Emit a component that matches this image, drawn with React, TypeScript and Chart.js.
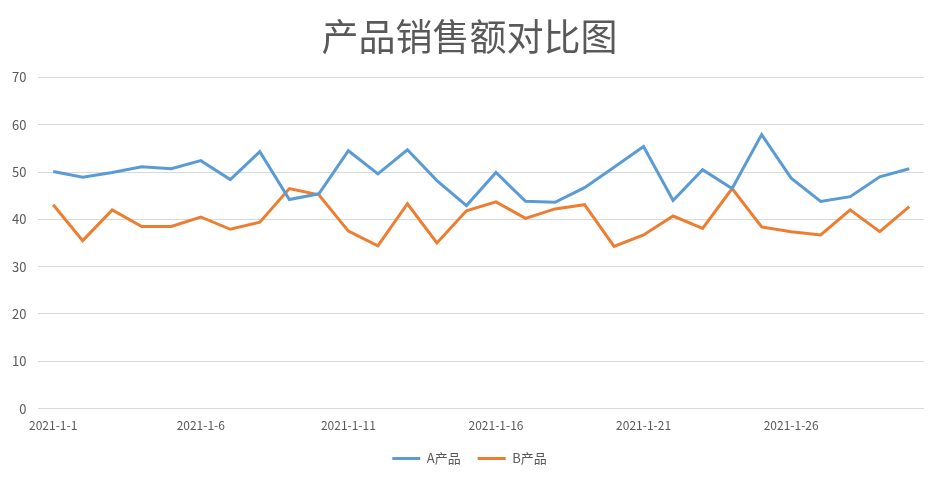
import React, { useEffect, useRef } from "react";
import { Chart, registerables } from "chart.js";

Chart.register(...registerables);

const titleText = "产品销售额对比图";
const categories = Array.from({ length: 30 }, (_, i) => `2021-1-${i + 1}`);
const seriesAName = "A产品";
const seriesBName = "B产品";
const seriesA = [
  50.1, 48.9, 49.9, 51.1, 50.7, 52.4, 48.4, 54.3, 44.2, 45.4,
  54.5, 49.6, 54.7, 48.2, 42.9, 49.9, 43.8, 43.6, 46.7, 51.0,
  55.4, 44.0, 50.5, 46.5, 57.9, 48.7, 43.8, 44.8, 49.0, 50.7,
];
const seriesB = [
  43.1, 35.5, 42.0, 38.5, 38.5, 40.5, 37.9, 39.4, 46.5, 45.2,
  37.5, 34.4, 43.3, 35.0, 41.8, 43.7, 40.2, 42.2, 43.1, 34.3,
  36.7, 40.7, 38.1, 46.5, 38.4, 37.4, 36.7, 42.0, 37.4, 42.7,
];
const yMin = 0;
const yMax = 70;
const yStep = 10;

const FONT = "'Noto Sans CJK SC', 'Noto Sans', sans-serif";

export default function App() {
  const ref = useRef<HTMLCanvasElement | null>(null);
  useEffect(() => {
    document.body.style.margin = "0";
    const ctx = ref.current!;
    const chart = new Chart(ctx, {
      type: "line",
      data: {
        labels: categories,
        datasets: [
          {
            label: seriesAName,
            data: seriesA,
            borderColor: "#5B9BD5",
            backgroundColor: "#5B9BD5",
            borderWidth: 3,
            pointRadius: 0,
            tension: 0,
          },
          {
            label: seriesBName,
            data: seriesB,
            borderColor: "#ED7D31",
            backgroundColor: "#ED7D31",
            borderWidth: 3,
            pointRadius: 0,
            tension: 0,
          },
        ],
      },
      options: {
        animation: false,
        responsive: false,
        maintainAspectRatio: false,
        layout: { padding: { left: 0, right: 0, top: 4, bottom: 4 } },
        plugins: {
          title: {
            display: true,
            text: titleText,
            color: "#595959",
            font: { family: FONT, size: 37, weight: "normal" },
            padding: { top: 11, bottom: 18 },
          },
          legend: {
            position: "bottom",
            labels: {
              color: "#595959",
              font: { family: FONT, size: 13 },
              usePointStyle: true,
              pointStyle: "line",
              pointStyleWidth: 28,
              boxHeight: 13,
              padding: 17,
            },
          },
          tooltip: { enabled: false },
        },
        scales: {
          x: {
            offset: true,
            grid: { display: false },
            border: { display: false },
            ticks: {
              autoSkip: false,
              maxRotation: 0,
              minRotation: 0,
              color: "#595959",
              font: { family: FONT, size: 12 },
              padding: 2,
              callback: (_v: any, i: number) => (i % 5 === 0 ? categories[i] : null),
            },
          },
          y: {
            min: yMin,
            max: yMax,
            border: { display: false },
            grid: { color: "#D9D9D9", drawTicks: false, lineWidth: 1 },
            ticks: {
              stepSize: yStep,
              color: "#595959",
              font: { family: FONT, size: 13 },
              padding: 12,
            },
          },
          ySpacer: {
            type: "linear",
            position: "right",
            display: true,
            min: yMin,
            max: yMax,
            grid: { display: false, drawTicks: false },
            border: { display: false },
            ticks: { display: false },
            afterFit: (s: any) => {
              s.width = 15;
            },
          },
        },
      },
    });
    return () => chart.destroy();
  }, []);
  return (
    <div style={{ width: 939, height: 479 }}>
      <canvas ref={ref} width={939} height={479} />
    </div>
  );
}
